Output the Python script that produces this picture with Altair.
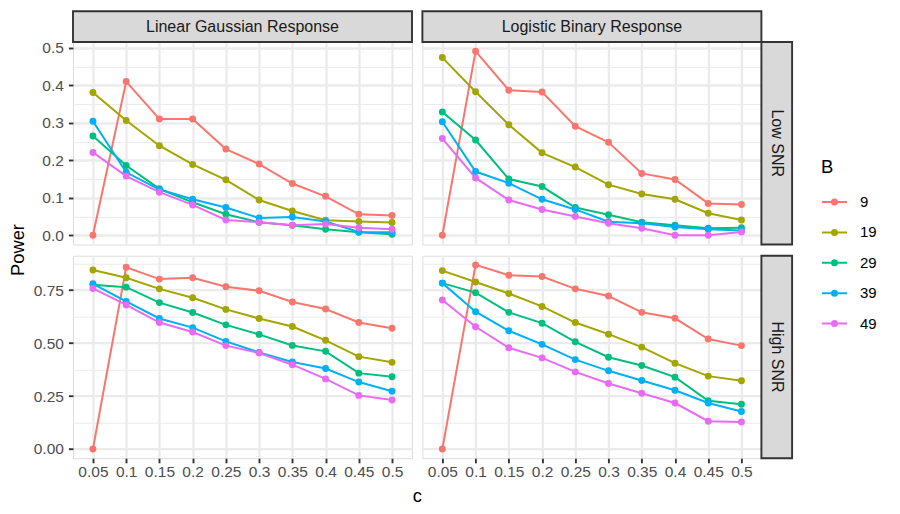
import altair as alt
import pandas as pd

# ---------------- data ----------------
c_labels = ["0.05", "0.1", "0.15", "0.2", "0.25", "0.3", "0.35", "0.4", "0.45", "0.5"]
B_levels = ["9", "19", "29", "39", "49"]
B_colors = ["#F8766D", "#A3A500", "#00BF7D", "#00B0F6", "#E76BF3"]

responses = ["Linear Gaussian Response", "Logistic Binary Response"]
snrs = ["Low SNR", "High SNR"]

linear_low = {
    "9":  [0.000, 0.410, 0.310, 0.310, 0.230, 0.190, 0.138, 0.104, 0.056, 0.053],
    "19": [0.381, 0.306, 0.239, 0.189, 0.148, 0.094, 0.065, 0.040, 0.037, 0.034],
    "29": [0.265, 0.186, 0.124, 0.088, 0.056, 0.035, 0.027, 0.016, 0.008, 0.003],
    "39": [0.304, 0.168, 0.122, 0.096, 0.074, 0.046, 0.049, 0.037, 0.009, 0.008],
    "49": [0.221, 0.158, 0.115, 0.081, 0.041, 0.035, 0.027, 0.030, 0.020, 0.016],
}
logistic_low = {
    "9":  [0.000, 0.491, 0.387, 0.382, 0.291, 0.248, 0.165, 0.149, 0.085, 0.082],
    "19": [0.474, 0.383, 0.295, 0.220, 0.182, 0.135, 0.110, 0.096, 0.059, 0.041],
    "29": [0.329, 0.254, 0.150, 0.130, 0.074, 0.055, 0.035, 0.027, 0.019, 0.020],
    "39": [0.303, 0.170, 0.139, 0.096, 0.069, 0.036, 0.032, 0.022, 0.016, 0.013],
    "49": [0.258, 0.153, 0.094, 0.069, 0.050, 0.032, 0.019, 0.000, 0.000, 0.009],
}
linear_high = {
    "9":  [0.000, 0.858, 0.802, 0.808, 0.766, 0.747, 0.694, 0.661, 0.597, 0.570],
    "19": [0.845, 0.808, 0.756, 0.714, 0.659, 0.616, 0.578, 0.513, 0.436, 0.409],
    "29": [0.775, 0.764, 0.691, 0.644, 0.586, 0.541, 0.489, 0.461, 0.358, 0.341],
    "39": [0.780, 0.697, 0.616, 0.573, 0.508, 0.456, 0.411, 0.380, 0.316, 0.273],
    "49": [0.758, 0.680, 0.597, 0.552, 0.488, 0.453, 0.398, 0.331, 0.253, 0.231],
}
logistic_high = {
    "9":  [0.000, 0.869, 0.820, 0.814, 0.756, 0.722, 0.645, 0.617, 0.519, 0.488],
    "19": [0.842, 0.788, 0.734, 0.673, 0.597, 0.542, 0.481, 0.405, 0.344, 0.322],
    "29": [0.783, 0.738, 0.645, 0.594, 0.506, 0.433, 0.394, 0.339, 0.228, 0.211],
    "39": [0.783, 0.648, 0.558, 0.494, 0.422, 0.369, 0.323, 0.277, 0.217, 0.177],
    "49": [0.703, 0.577, 0.478, 0.430, 0.364, 0.309, 0.263, 0.217, 0.131, 0.128],
}

# ---------------- styling ----------------
FONT = "Liberation Sans"
W, H = 339, 202.5
STRIP = 30.7
GRID = "#EBEBEB"
DARK = "#333333"
LABEL = "#4D4D4D"
AX_FS = 15.5
STRIP_FS = 16
SYM = "M-1,0H1M0.2,0A0.2,0.2,0,1,1,-0.2,0A0.2,0.2,0,1,1,0.2,0Z"


def to_df(d):
    rows = []
    for b in B_levels:
        for i, c in enumerate(c_labels):
            rows.append({"c": c, "ci": i, "B": b, "power": d[b][i]})
    return pd.DataFrame(rows)


def row_domain(*panels):
    vals = [v for p in panels for s in p.values() for v in s]
    lo, hi = min(vals), max(vals)
    r = hi - lo
    return [lo - 0.05 * r, hi + 0.05 * r]


legend = alt.Legend(
    title="B", orient="none", legendX=748, legendY=116, padding=0,
    symbolType=SYM, symbolSize=625, symbolStrokeWidth=2,
    labelFont=FONT, labelFontSize=15, labelColor="#000000", labelOffset=12,
    titleFont=FONT, titleFontSize=18.5, titleFontWeight="normal", titleColor="#000000",
    titlePadding=12, rowPadding=8.4,
)


def panel(data, domain, step, fmt, show_x, show_y, strip_top=None, strip_right=None,
          extra=None):
    df = to_df(data)
    n_minor = 2
    minor_test = f"abs(datum.value*{1/step:g} - round(datum.value*{1/step:g})) > 0.001"
    vals = []
    v = 0.0
    while v <= domain[1] + 1e-9:
        vals.append(round(v, 4))
        v += step / n_minor
    grid_w = {"condition": {"test": minor_test, "value": 1.15}, "value": 2.3}
    if show_y:
        yaxis = alt.Axis(
            title=None, values=vals, grid=True, gridColor=GRID, gridWidth=grid_w,
            domain=False, tickColor=DARK, tickSize=4.6, tickWidth=1.9,
            tickOpacity={"condition": {"test": minor_test, "value": 0}, "value": 1},
            labelExpr=f"({minor_test}) ? '' : format(datum.value, '{fmt}')",
            labelFont=FONT, labelFontSize=AX_FS, labelColor=LABEL, labelPadding=5,
        )
    else:
        yaxis = alt.Axis(title=None, values=vals, grid=True, gridColor=GRID,
                         gridWidth=grid_w, domain=False, ticks=False, labels=False)
    if show_x:
        xaxis = alt.Axis(title=None, labelAngle=0, grid=True, gridColor=GRID,
                         gridWidth=2.3, domain=False, tickColor=DARK, tickSize=4.6,
                         tickWidth=1.9, labelFont=FONT, labelFontSize=AX_FS,
                         labelColor=LABEL, labelPadding=1.5)
    else:
        xaxis = alt.Axis(title=None, grid=True, gridColor=GRID, gridWidth=2.3,
                         domain=False, ticks=False, labels=False)

    x = alt.X("c:N", sort=c_labels, scale=alt.Scale(type="point", padding=0.6), axis=xaxis)
    y = alt.Y("power:Q", scale=alt.Scale(domain=domain, nice=False, zero=False), axis=yaxis)
    cscale = alt.Scale(domain=B_levels, range=B_colors)

    base = alt.Chart(df)
    lines = base.mark_line(strokeWidth=2).encode(
        x=x, y=y, order="ci:Q",
        stroke=alt.Stroke("B:N", sort=B_levels, scale=cscale, legend=legend),
    )
    pts = base.mark_point(filled=True, size=48, opacity=1).encode(
        x=x, y=y,
        fill=alt.Fill("B:N", sort=B_levels, scale=cscale, legend=legend),
    )
    layers = [lines, pts]
    if strip_top:
        sd = pd.DataFrame({"t": [strip_top]})
        layers.append(alt.Chart(sd).mark_rect(fill="#D9D9D9", stroke=DARK, strokeWidth=1.9).encode(
            x=alt.value(0), x2=alt.value(W), y=alt.value(-STRIP), y2=alt.value(0)))
        layers.append(alt.Chart(sd).mark_text(font=FONT, fontSize=STRIP_FS, color="#1A1A1A").encode(
            x=alt.value(W / 2), y=alt.value(-STRIP / 2), text="t:N"))
    if strip_right:
        sd = pd.DataFrame({"t": [strip_right]})
        layers.append(alt.Chart(sd).mark_rect(fill="#D9D9D9", stroke=DARK, strokeWidth=1.9).encode(
            x=alt.value(W), x2=alt.value(W + STRIP), y=alt.value(0), y2=alt.value(H)))
        layers.append(alt.Chart(sd).mark_text(font=FONT, fontSize=STRIP_FS, color="#1A1A1A",
                                              angle=90).encode(
            x=alt.value(W + STRIP / 2), y=alt.value(H / 2), text="t:N"))
    if extra:
        layers.extend(extra)
    return alt.layer(*layers).properties(width=W, height=H)


top_dom = row_domain(linear_low, logistic_low)
bot_dom = row_domain(linear_high, logistic_high)

power_title = alt.Chart(pd.DataFrame({"t": ["Power"]})).mark_text(
    font=FONT, fontSize=18.3, color="#000000", angle=270).encode(
    x=alt.value(-53.6), y=alt.value(208), text="t:N")
c_title = alt.Chart(pd.DataFrame({"t": ["c"]})).mark_text(
    font=FONT, fontSize=18.3, color="#000000", baseline="alphabetic").encode(
    x=alt.value(344.2), y=alt.value(246), text="t:N")

tl = panel(linear_low, top_dom, 0.1, ".1f", False, True, strip_top=responses[0],
           extra=[power_title])
tr = panel(logistic_low, top_dom, 0.1, ".1f", False, False, strip_top=responses[1],
           strip_right=snrs[0])
bl = panel(linear_high, bot_dom, 0.25, ".2f", True, True, extra=[c_title])
br = panel(logistic_high, bot_dom, 0.25, ".2f", True, False, strip_right=snrs[1])

chart = alt.concat(
    tl, tr, bl, br, columns=2, spacing={"row": 10.7, "column": 10.4}, bounds="flush"
).resolve_scale(
    x="independent", y="independent", stroke="shared", fill="shared"
).properties(
    padding={"left": 0, "top": 1, "right": 5, "bottom": 5}
).configure_view(stroke=DARK, strokeWidth=1.9).configure(background="white")

chart.save("out.html", embed_options={"renderer": "svg", "actions": False})
